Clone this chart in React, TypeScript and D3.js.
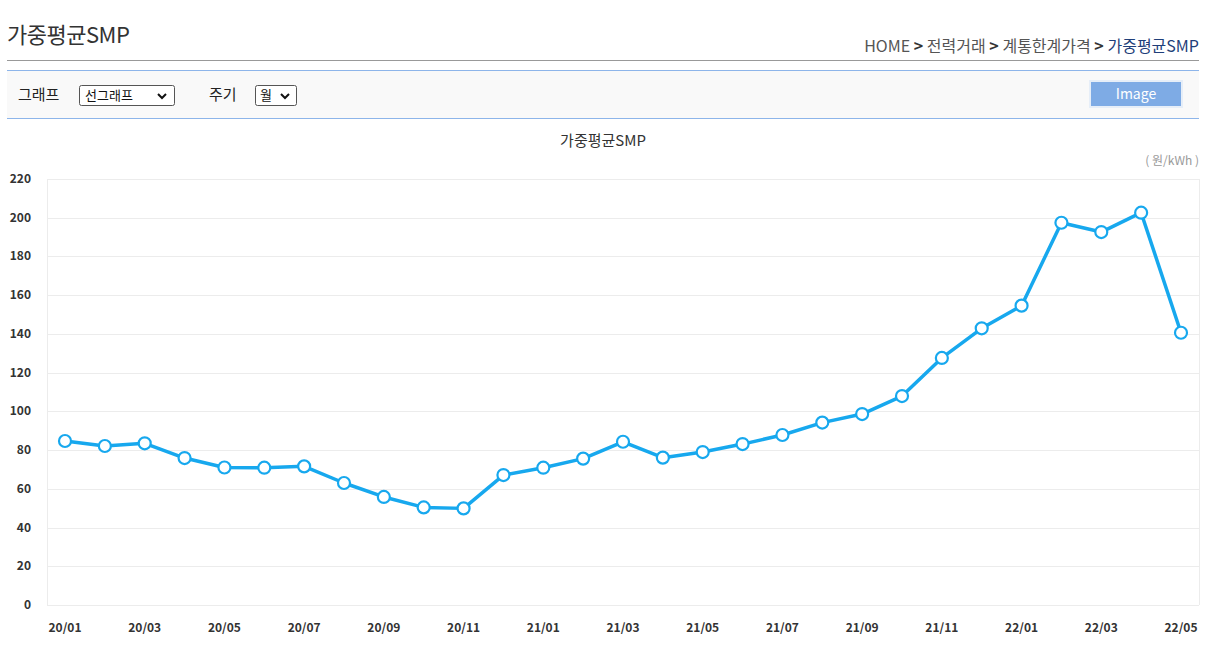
import React from "react";
import * as d3 from "d3";

const months: string[] = [
  "20/01","20/02","20/03","20/04","20/05","20/06","20/07","20/08","20/09","20/10","20/11","20/12",
  "21/01","21/02","21/03","21/04","21/05","21/06","21/07","21/08","21/09","21/10","21/11","21/12",
  "22/01","22/02","22/03","22/04","22/05",
];
const smp: number[] = [
  84.7, 82.1, 83.5, 75.9, 71.0, 70.9, 71.6, 63.0, 55.8, 50.4, 49.9, 67.1,
  70.9, 75.6, 84.3, 76.1, 79.0, 83.1, 87.8, 94.2, 98.6, 107.9, 127.6, 142.9,
  154.6, 197.4, 192.6, 202.6, 140.6,
];
const yTicks: number[] = [0, 20, 40, 60, 80, 100, 120, 140, 160, 180, 200, 220];
const crumbs: string[] = ["HOME", "전력거래", "계통한계가격", "가중평균SMP"];

const FONT = "'Noto Sans CJK KR', 'Noto Sans', sans-serif";

export default function App() {
  const W = 1213, H = 647;
  const plotL = 47, plotR = 1199, plotT = 179, plotB = 605;
  const x = d3.scalePoint<string>().domain(months).range([65, 1181]);
  const y = d3.scaleLinear().domain([0, 220]).range([plotB, plotT]);
  const line = d3.line<number>().x((_, i) => x(months[i])!).y((d) => y(d));
  const chevron = (cx: number, cy: number) =>
    `M${cx - 4},${cy - 2} L${cx},${cy + 2} L${cx + 4},${cy - 2}`;

  return (
    <svg width={W} height={H} style={{ position: "absolute", left: 0, top: 0, background: "#fff" }} fontFamily={FONT}>
      {/* header */}
      <text x={7} y={43} fontSize={22} fill="#333" fontWeight={400} letterSpacing={-0.5}>가중평균SMP</text>
      <text x={1199} y={52} fontSize={16} textAnchor="end" fill="#555">
        {crumbs.map((c, i) => (
          <tspan key={c} fill={i === crumbs.length - 1 ? "#1f3f7a" : "#555"}>
            {c}
            {i < crumbs.length - 1 ? <tspan fontWeight={700} fill="#333">{" > "}</tspan> : null}
          </tspan>
        ))}
      </text>
      <line x1={7} x2={1199} y1={60.5} y2={60.5} stroke="#999" />
      {/* control bar */}
      <rect x={7} y={71} width={1192} height={47} fill="#f9f9f9" />
      <line x1={7} x2={1199} y1={70.5} y2={70.5} stroke="#8db5ea" />
      <line x1={7} x2={1199} y1={118.5} y2={118.5} stroke="#8db5ea" />
      <text x={18} y={100} fontSize={15} fill="#222">그래프</text>
      <rect x={79.5} y={85.5} width={95} height={20} rx={2} fill="#fff" stroke="#555" />
      <text x={85} y={100} fontSize={13} fill="#111">선그래프</text>
      <path d={chevron(162, 96)} fill="none" stroke="#111" strokeWidth={2} />
      <text x={209} y={100} fontSize={15} fill="#222">주기</text>
      <rect x={255.5} y={85.5} width={41} height={20} rx={2} fill="#fff" stroke="#555" />
      <text x={260} y={100} fontSize={13} fill="#111">월</text>
      <path d={chevron(285, 96)} fill="none" stroke="#111" strokeWidth={2} />
      <rect x={1090} y={81} width={92} height={26} fill="#7eabe5" stroke="#e6eef8" strokeWidth={2} />
      <text x={1136} y={99} fontSize={14} fill="#fff" textAnchor="middle">Image</text>

      {/* chart title */}
      <text x={603} y={146} fontSize={15} fill="#333" textAnchor="middle">가중평균SMP</text>
      <text x={1199} y={165} fontSize={12} fill="#999" textAnchor="end">( 원/kWh )</text>

      {/* grid */}
      {yTicks.map((t) => (
        <g key={t}>
          <line x1={plotL} x2={plotR} y1={Math.round(y(t)) + 0.5} y2={Math.round(y(t)) + 0.5} stroke="#ececec" />
          <text x={31} y={y(t) + 4} fontSize={12} fontWeight={600} fill="#333" textAnchor="end">{t}</text>
        </g>
      ))}
      <line x1={plotL + 0.5} x2={plotL + 0.5} y1={plotT} y2={plotB} stroke="#ececec" />
      <line x1={plotR + 0.5} x2={plotR + 0.5} y1={plotT} y2={plotB} stroke="#ececec" />

      {months.map((m, i) =>
        i % 2 === 0 ? (
          <text key={m} x={x(m)} y={632} fontSize={12} fontWeight={600} fill="#333" textAnchor="middle">{m}</text>
        ) : null
      )}

      <path d={line(smp) || ""} fill="none" stroke="#17a8ee" strokeWidth={3.5} strokeLinejoin="round" />
      {smp.map((v, i) => (
        <circle key={i} cx={x(months[i])} cy={y(v)} r={6} fill="#fff" stroke="#17a8ee" strokeWidth={2.2} />
      ))}
    </svg>
  );
}
